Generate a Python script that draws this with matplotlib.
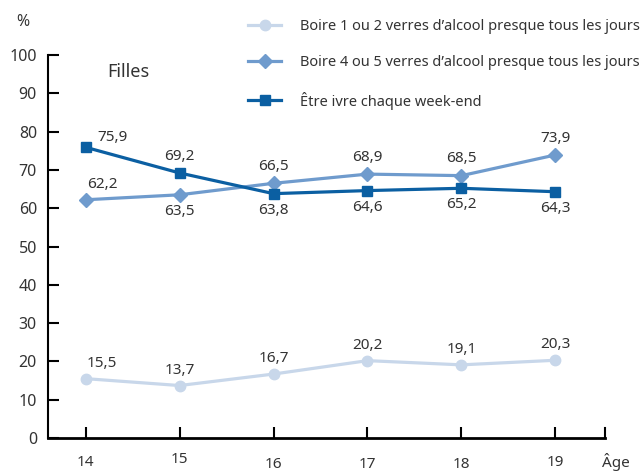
import numpy as np
import matplotlib.pyplot as plt
from matplotlib.transforms import ScaledTranslation

plt.rcParams['font.family'] = ['Noto Sans', 'DejaVu Sans']

ages = [14, 15, 16, 17, 18, 19]
boire_1_2 = [15.5, 13.7, 16.7, 20.2, 19.1, 20.3]
boire_4_5 = [62.2, 63.5, 66.5, 68.9, 68.5, 73.9]
ivre_we = [75.9, 69.2, 63.8, 64.6, 65.2, 64.3]

labels = ["Boire 1 ou 2 verres d\u2019alcool presque tous les jours",
          "Boire 4 ou 5 verres d\u2019alcool presque tous les jours",
          "\u00catre ivre chaque week-end"]

c_light = '#c8d7ea'
c_mid = '#6f9bcd'
c_dark = '#0b5fa2'
txt = '#333333'

fig = plt.figure(figsize=(6.43, 4.72), dpi=100)
ax = fig.add_axes([0.0747, 0.072, 0.8665, 0.8115])

l1, = ax.plot(ages, boire_1_2, color=c_light, lw=2.3, marker='o', ms=7.5,
              label=labels[0])
l2, = ax.plot(ages, boire_4_5, color=c_mid, lw=2.3, marker='D', ms=7,
              label=labels[1])
l3, = ax.plot(ages, ivre_we, color=c_dark, lw=2.3, marker='s', ms=7.5,
              label=labels[2])

# value labels: (dx, dy) offsets in points
def annot(xs, ys, offs):
    for x, y, (dx, dy) in zip(xs, ys, offs):
        ax.annotate(f"{y:.1f}".replace('.', ','), (x, y), xytext=(dx, dy),
                    textcoords='offset points', ha='center', va='center',
                    fontsize=11, color=txt)

annot(ages, boire_1_2, [(12, 11), (0, 11), (0, 11), (0, 11), (0, 11), (0, 11)])
annot(ages, boire_4_5, [(12, 11), (0, -12), (0, 12), (0, 12), (0, 12), (0, 12)])
annot(ages, ivre_we, [(19, 7), (0, 12), (0, -12), (0, -12), (0, -12), (0, -12)])

ax.set_xlim(13.6, 19.53)
ax.set_ylim(0, 100)
ax.set_yticks(np.arange(0, 101, 10))
ax.set_xticks(ages)
ax.tick_params(axis='y', direction='in', length=8, width=1.5, labelsize=11.5,
               labelcolor=txt, pad=8)
ax.tick_params(axis='x', direction='in', length=8, width=1.5, labelsize=11,
               labelcolor=txt, pad=12)
ax.set_xticklabels([str(a) for a in ages])
# slightly staggered age labels
shifts = [0, 2, -1.5, -1.5, -1.5, -0.5]
for lab, s in zip(ax.get_xticklabels(), shifts):
    lab.set_transform(lab.get_transform() + ScaledTranslation(0, s / 72, fig.dpi_scale_trans))

for side in ['top', 'right']:
    ax.spines[side].set_visible(False)
ax.spines['left'].set_linewidth(1.5)
ax.spines['bottom'].set_linewidth(2)
# end tick on the right of the x axis
ax.plot([19.53, 19.53], [0, 2.6], color='black', lw=1.5, clip_on=False)

ax.text(-0.045, 1.085, '%', transform=ax.transAxes, fontsize=11.5, color=txt,
        ha='center', va='center')
ax.text(0.106, 0.955, 'Filles', transform=ax.transAxes, fontsize=13,
        color=txt, ha='left', va='center')
ax.text(1.02, -0.063, '\u00c2ge', transform=ax.transAxes, fontsize=11,
        color=txt, ha='center', va='center')

fig.legend(handles=[l1, l2, l3], loc='upper left', bbox_to_anchor=(0.365, 0.987),
           frameon=False, fontsize=10.5, handlelength=2.3, labelspacing=1.45,
           handletextpad=1.3, labelcolor=txt)

fig.savefig('out.png', dpi=100)
